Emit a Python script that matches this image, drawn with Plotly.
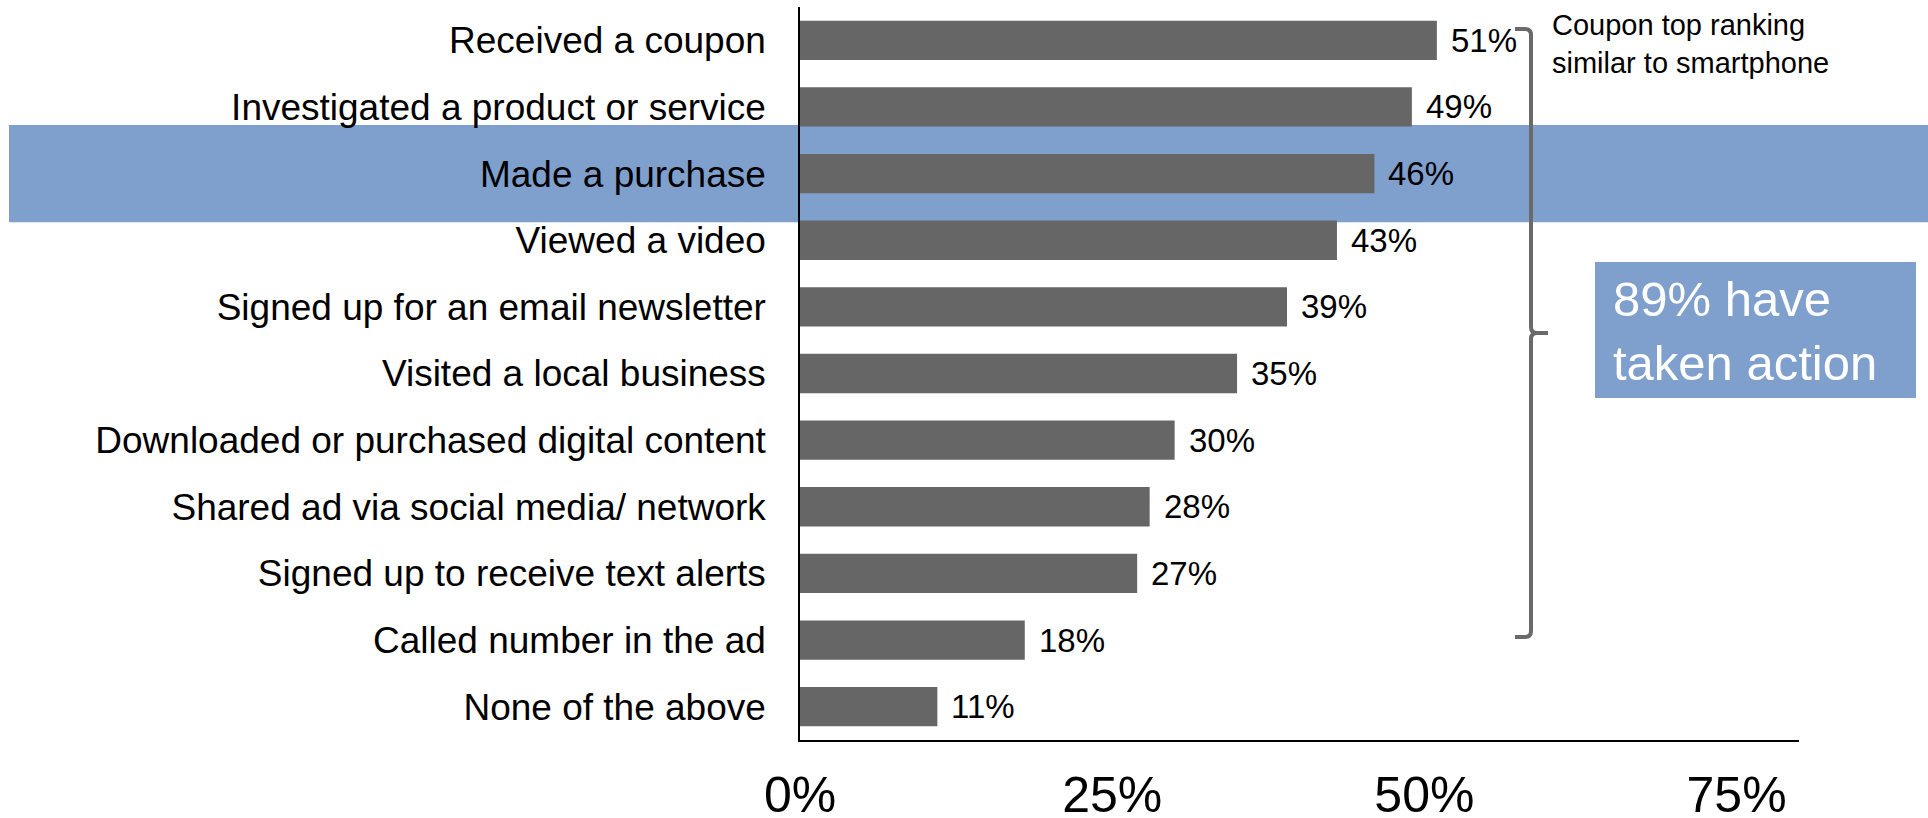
import plotly.graph_objects as go

# Share of respondents taking each action after seeing an ad (%)
categories = [
    "Received a coupon",
    "Investigated a product or service",
    "Made a purchase",
    "Viewed a video",
    "Signed up for an email newsletter",
    "Visited a local business",
    "Downloaded or purchased digital content",
    "Shared ad via social media/ network",
    "Signed up to receive text alerts",
    "Called number in the ad",
    "None of the above",
]
values = [51, 49, 46, 43, 39, 35, 30, 28, 27, 18, 11]
x_ticks = [0, 25, 50, 75]
highlight = "Made a purchase"

W, H = 1928, 818
L, R, T, B = 800, 129, 7, 78
PW, PH = W - L - R, H - T - B

BLUE = "#7f9fcd"
GREY = "#666666"
NARROW = "Liberation Sans Narrow, Arial Narrow, Liberation Sans, Arial, sans-serif"
SANS = "Liberation Sans, Arial, sans-serif"


def px_x(p):
    return (p - L) / PW


def px_y(p):
    return 1 - (p - T) / PH


pos = list(range(len(categories)))

fig = go.Figure()
fig.add_trace(go.Bar(
    x=values,
    y=pos,
    orientation="h",
    width=0.59,
    marker=dict(color=GREY, line=dict(width=0)),
    hoverinfo="skip",
))

# value labels next to each bar
for v, p in zip(values, pos):
    fig.add_annotation(
        x=v, y=p, xref="x", yref="y", text=f"{v}%",
        showarrow=False, xanchor="left", yanchor="middle", xshift=12,
        font=dict(family=NARROW, size=33, color="black"),
    )

# highlighted row band
hi = categories.index(highlight)
fig.add_shape(
    type="rect", xref="paper", yref="y",
    x0=px_x(9), x1=px_x(W + 5), y0=hi - 0.73, y1=hi + 0.73,
    fillcolor=BLUE, line=dict(width=0), layer="below",
)

# bracket grouping the action rows
bx, hl, tr = 1531, 1515, 1548
top, bot, mid, r = 29, 637, 333, 6
path = (
    f"M {px_x(hl)},{px_y(top)} L {px_x(bx - r)},{px_y(top)} "
    f"Q {px_x(bx)},{px_y(top)} {px_x(bx)},{px_y(top + r)} "
    f"L {px_x(bx)},{px_y(mid - r)} "
    f"Q {px_x(bx)},{px_y(mid)} {px_x(bx + r)},{px_y(mid)} "
    f"L {px_x(tr)},{px_y(mid)} "
    f"M {px_x(bx + r)},{px_y(mid)} "
    f"Q {px_x(bx)},{px_y(mid)} {px_x(bx)},{px_y(mid + r)} "
    f"L {px_x(bx)},{px_y(bot - r)} "
    f"Q {px_x(bx)},{px_y(bot)} {px_x(bx - r)},{px_y(bot)} "
    f"L {px_x(hl)},{px_y(bot)}"
)
fig.add_shape(type="path", xref="paper", yref="paper", path=path,
              line=dict(color="#6a6a6a", width=4), layer="above")

# callout box
fig.add_shape(
    type="rect", xref="paper", yref="paper",
    x0=px_x(1595), x1=px_x(1916), y0=px_y(398), y1=px_y(262),
    fillcolor=BLUE, line=dict(width=0), layer="above",
)
fig.add_annotation(
    xref="paper", yref="paper", x=px_x(1611), y=px_y(331),
    text="89% have<br>taken action", showarrow=False,
    xanchor="left", yanchor="middle", align="left",
    font=dict(family=SANS, size=49, color="white"),
)

fig.add_annotation(
    xref="paper", yref="paper", x=px_x(1550), y=px_y(7),
    text="Coupon top ranking<br>similar to smartphone", showarrow=False,
    xanchor="left", yanchor="top", align="left",
    font=dict(family=SANS, size=29, color="black"),
)

fig.update_layout(
    width=W, height=H, autosize=False,
    margin=dict(l=L, r=R, t=T, b=B, pad=0, autoexpand=False),
    paper_bgcolor="white", plot_bgcolor="rgba(0,0,0,0)",
    showlegend=False, bargap=0.41,
)
fig.update_xaxes(
    range=[0, 80], tickvals=x_ticks, ticktext=[f"{t}%" for t in x_ticks],
    showgrid=False, zeroline=False, showline=True, linecolor="black",
    linewidth=1.5, ticks="", ticklabelstandoff=10, automargin=False,
    tickfont=dict(family=NARROW, size=50, color="black"),
)
fig.update_yaxes(
    range=[len(categories) - 0.5, -0.5], tickvals=pos, ticktext=categories,
    showgrid=False, zeroline=False, showline=True, linecolor="black",
    linewidth=1.5, ticks="", ticklabelstandoff=25, automargin=False,
    tickfont=dict(family=SANS, size=37, color="black"),
)

fig.write_html("out.html")
